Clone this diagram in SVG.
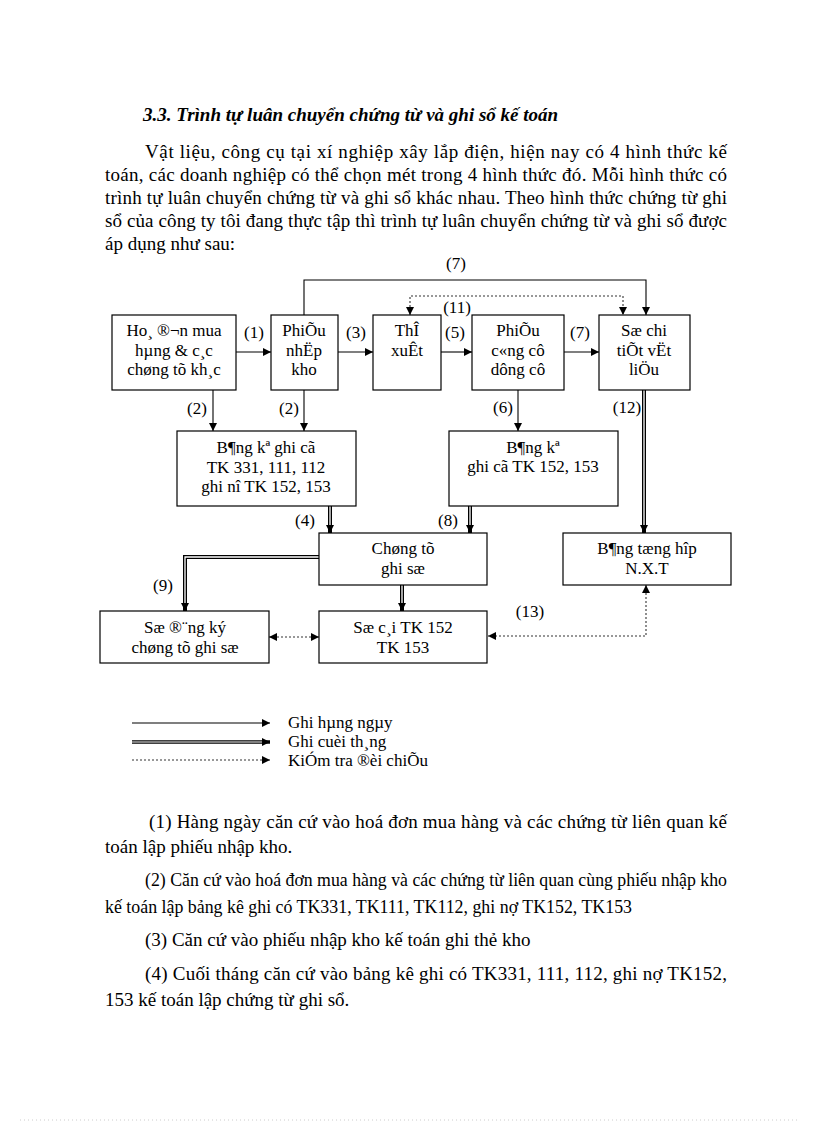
<svg xmlns="http://www.w3.org/2000/svg" width="816" height="1123" viewBox="0 0 816 1123">
<defs>
<style>
.body{font-family:"Liberation Serif","Times New Roman",serif;font-size:19px;fill:#000}
.title{font-family:"Liberation Serif","Times New Roman",serif;font-size:19px;font-weight:bold;font-style:italic;fill:#000}
.nt{font-family:"Liberation Serif","Times New Roman",serif;font-size:17px;fill:#000;text-anchor:middle}
.lb{font-family:"Liberation Serif","Times New Roman",serif;font-size:17px;fill:#000;text-anchor:middle}
.lg{font-family:"Liberation Serif","Times New Roman",serif;font-size:17px;fill:#000}
.box{fill:#fff;stroke:#000;stroke-width:1.2}
.s{fill:none;stroke:#000;stroke-width:1.1}
.d{fill:none;stroke:#000;stroke-width:4}
.dw{fill:none;stroke:#fff;stroke-width:1.3}
.dot{fill:none;stroke:#333;stroke-width:1.1;stroke-dasharray:2 2}
</style>
<marker id="ar" viewBox="0 0 10 10" refX="10" refY="5" markerUnits="userSpaceOnUse" markerWidth="9" markerHeight="8" orient="auto-start-reverse">
<path d="M0,0 L10,5 L0,10 z" fill="#000"/>
</marker>
</defs>
<rect width="816" height="1123" fill="#fff"/>

<text class="title" x="143" y="121">3.3. Trình tự luân chuyển chứng từ và ghi sổ kế toán</text>
<text class="body" x="145" y="158" textLength="582" lengthAdjust="spacing">Vật liệu, công cụ tại xí nghiệp xây lắp điện, hiện nay có 4 hình thức kế</text>
<text class="body" x="105" y="181" textLength="622" lengthAdjust="spacing">toán, các doanh nghiệp có thể chọn mét trong 4 hình thức đó. Mỗi hình thức có</text>
<text class="body" x="105" y="204" textLength="622" lengthAdjust="spacing">trình tự luân chuyển chứng từ và ghi sổ khác nhau. Theo hình thức chứng từ ghi</text>
<text class="body" x="105" y="227" textLength="622" lengthAdjust="spacing">sổ của công ty tôi đang thực tập thì trình tự luân chuyển chứng từ và ghi sổ được</text>
<text class="body" x="105" y="250">áp dụng như sau:</text>

<g id="connectors">
<line class="s" x1="236" y1="352" x2="271" y2="352" marker-end="url(#ar)"/>
<line class="s" x1="338" y1="352" x2="373" y2="352" marker-end="url(#ar)"/>
<line class="s" x1="441" y1="352" x2="472" y2="352" marker-end="url(#ar)"/>
<line class="s" x1="564" y1="352" x2="599" y2="352" marker-end="url(#ar)"/>
<polyline class="s" points="304,315 304,280 646,280 646,315" marker-end="url(#ar)"/>
<polyline class="dot" points="410,315 410,296 623,296 623,315" marker-start="url(#ar)" marker-end="url(#ar)"/>
<line class="s" x1="213" y1="390" x2="213" y2="431" marker-end="url(#ar)"/>
<line class="s" x1="304" y1="390" x2="304" y2="431" marker-end="url(#ar)"/>
<line class="s" x1="518" y1="390" x2="518" y2="431" marker-end="url(#ar)"/>
<line class="d" x1="644" y1="390" x2="644" y2="533" marker-end="url(#ar)"/>
<line class="dw" x1="644" y1="390" x2="644" y2="525"/>
<line class="d" x1="330" y1="506" x2="330" y2="533" marker-end="url(#ar)"/>
<line class="dw" x1="330" y1="506" x2="330" y2="525"/>
<line class="d" x1="470" y1="506" x2="470" y2="533" marker-end="url(#ar)"/>
<line class="dw" x1="470" y1="506" x2="470" y2="525"/>
<polyline class="d" points="319,557 185,557 185,611" marker-end="url(#ar)"/>
<polyline class="dw" points="319,557 185,557 185,603"/>
<line class="d" x1="402" y1="585" x2="402" y2="611" marker-end="url(#ar)"/>
<line class="dw" x1="402" y1="585" x2="402" y2="603"/>
<line class="dot" x1="269" y1="637" x2="319" y2="637" marker-start="url(#ar)" marker-end="url(#ar)"/>
<polyline class="dot" points="646,585 646,636 488,636" marker-start="url(#ar)" marker-end="url(#ar)"/>
</g>

<g id="labels">
<text class="lb" x="254" y="338">(1)</text>
<text class="lb" x="356" y="338">(3)</text>
<text class="lb" x="455" y="338">(5)</text>
<text class="lb" x="580" y="338">(7)</text>
<text class="lb" x="456" y="269">(7)</text>
<text class="lb" x="457" y="313">(11)</text>
<text class="lb" x="197" y="414">(2)</text>
<text class="lb" x="289" y="414">(2)</text>
<text class="lb" x="503" y="413">(6)</text>
<text class="lb" x="627" y="413">(12)</text>
<text class="lb" x="305" y="526">(4)</text>
<text class="lb" x="448" y="526">(8)</text>
<text class="lb" x="163" y="591">(9)</text>
<text class="lb" x="530" y="617">(13)</text>
</g>

<g id="n-hoadon">
<rect class="box" x="112" y="315" width="124" height="75"/>
<text class="nt" x="174" y="336">Ho¸  ®¬n mua</text>
<text class="nt" x="174" y="356">hµng  &amp; c¸c</text>
<text class="nt" x="174" y="375">chøng tõ kh¸c</text>
</g>
<g id="n-phieunhap">
<rect class="box" x="271" y="315" width="67" height="75"/>
<text class="nt" x="304" y="336">PhiÕu</text>
<text class="nt" x="304" y="356">nhËp</text>
<text class="nt" x="304" y="375">kho</text>
</g>
<g id="n-thexuat">
<rect class="box" x="373" y="315" width="68" height="75"/>
<text class="nt" x="407" y="336">ThÎ</text>
<text class="nt" x="407" y="356">xuÊt</text>
</g>
<g id="n-phieucc">
<rect class="box" x="472" y="315" width="92" height="75"/>
<text class="nt" x="518" y="336">PhiÕu</text>
<text class="nt" x="518" y="356">c«ng cô</text>
<text class="nt" x="518" y="375">dông cô</text>
</g>
<g id="n-sochitiet">
<rect class="box" x="599" y="315" width="91" height="75"/>
<text class="nt" x="644" y="336">Sæ chi</text>
<text class="nt" x="644" y="356">tiÕt vËt</text>
<text class="nt" x="644" y="375">liÖu</text>
</g>
<g id="n-bangke1">
<rect class="box" x="177" y="431" width="179" height="75"/>
<text class="nt" x="266" y="453">B¶ng kª ghi cã</text>
<text class="nt" x="266" y="473">TK 331, 111, 112</text>
<text class="nt" x="266" y="492">ghi nî TK 152, 153</text>
</g>
<g id="n-bangke2">
<rect class="box" x="449" y="431" width="169" height="75"/>
<text class="nt" x="533" y="453">B¶ng kª</text>
<text class="nt" x="533" y="472">ghi cã TK 152, 153</text>
</g>
<g id="n-tonghop">
<rect class="box" x="563" y="533" width="168" height="52"/>
<text class="nt" x="647" y="554">B¶ng tæng hîp</text>
<text class="nt" x="647" y="574">N.X.T</text>
</g>
<g id="n-chungtu">
<rect class="box" x="319" y="533" width="168" height="52"/>
<text class="nt" x="403" y="554">Chøng tõ</text>
<text class="nt" x="403" y="574">ghi sæ</text>
</g>
<g id="n-sodangky">
<rect class="box" x="100" y="611" width="169" height="52"/>
<text class="nt" x="185" y="633">Sæ ®¨ng ký</text>
<text class="nt" x="185" y="653">chøng tõ ghi sæ</text>
</g>
<g id="n-socai">
<rect class="box" x="319" y="611" width="168" height="52"/>
<text class="nt" x="403" y="633">Sæ c¸i TK 152</text>
<text class="nt" x="403" y="653">TK 153</text>
</g>

<g id="legend">
<line class="s" x1="132" y1="723" x2="270" y2="723" marker-end="url(#ar)"/>
<line class="d" x1="132" y1="742" x2="270" y2="742" marker-end="url(#ar)" style="stroke-width:3.6"/>
<line class="dw" x1="132" y1="742" x2="262" y2="742" style="stroke-width:1"/>
<line class="dot" x1="132" y1="760" x2="270" y2="760" marker-end="url(#ar)"/>
<text class="lg" x="288" y="728">Ghi hµng  ngµy</text>
<text class="lg" x="288" y="747">Ghi cuèi th¸ng</text>
<text class="lg" x="288" y="766">KiÓm tra ®èi chiÕu</text>
</g>

<text class="body" x="149" y="828" textLength="578" lengthAdjust="spacing">(1) Hàng ngày căn cứ vào hoá đơn mua hàng và các chứng từ liên  quan kế</text>
<text class="body" x="105" y="853">toán lập phiếu nhập kho.</text>
<text class="body" x="145" y="886" textLength="582" lengthAdjust="spacingAndGlyphs">(2) Căn cứ vào hoá đơn mua hàng và các chứng từ liên quan cùng phiếu nhập kho</text>
<text class="body" x="105" y="913" textLength="527" lengthAdjust="spacingAndGlyphs">kế toán lập bảng kê ghi có TK331, TK111, TK112, ghi nợ TK152, TK153</text>
<text class="body" x="145" y="946">(3) Căn cứ vào phiếu nhập kho kế toán ghi thẻ kho</text>
<text class="body" x="145" y="980" textLength="582" lengthAdjust="spacing">(4) Cuối tháng căn cứ vào bảng kê ghi có TK331, 111, 112, ghi nợ TK152,</text>
<text class="body" x="105" y="1006">153 kế toán lập chứng từ ghi sổ.</text>

<line x1="20" y1="1120" x2="800" y2="1120" stroke="#ccc" stroke-width="1" stroke-dasharray="1 3"/>
</svg>
